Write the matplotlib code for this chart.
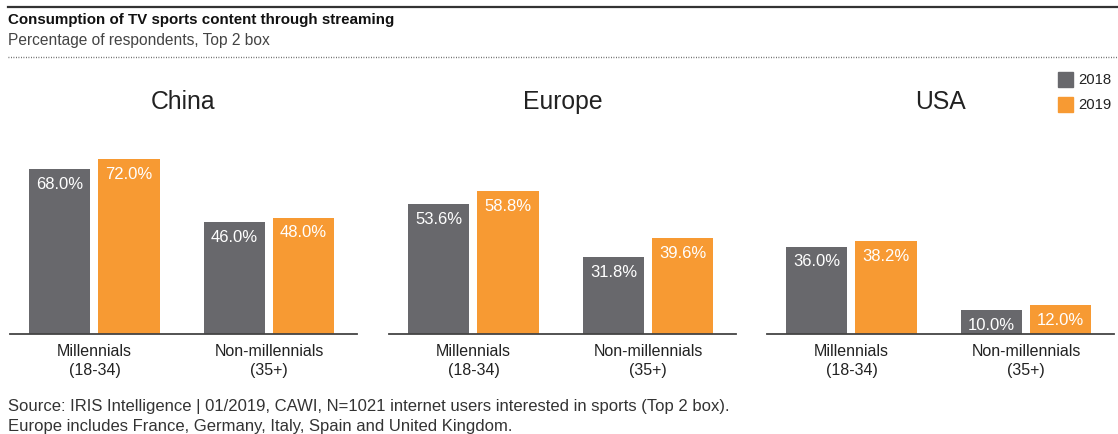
import matplotlib
matplotlib.use("Agg")
import matplotlib.pyplot as plt
from matplotlib.lines import Line2D
from matplotlib.patches import Rectangle

plt.rcParams['font.family'] = ['Liberation Sans', 'DejaVu Sans']

# Data
regions = ["China", "Europe", "USA"]
groups = ["Millennials\n(18-34)", "Non-millennials\n(35+)"]
years = ["2018", "2019"]
values_2018 = {"China": [68.0, 46.0], "Europe": [53.6, 31.8], "USA": [36.0, 10.0]}
values_2019 = {"China": [72.0, 48.0], "Europe": [58.8, 39.6], "USA": [38.2, 12.0]}

title = "Consumption of TV sports content through streaming"
subtitle = "Percentage of respondents, Top 2 box"
source_lines = [
    "Source: IRIS Intelligence | 01/2019, CAWI, N=1021 internet users interested in sports (Top 2 box).",
    "Europe includes France, Germany, Italy, Spain and United Kingdom.",
]

GRAY = "#68686c"
ORANGE = "#f79a33"
TEXT = "#222222"

W, H = 1118, 434
fig = plt.figure(figsize=(W / 100, H / 100), dpi=100)


def fx(px):
    return px / W


def fy(py):
    return 1 - py / H


# Header rules and text
fig.add_artist(Line2D([fx(8), fx(1118)], [fy(7), fy(7)], color="#333333", lw=1.6))
fig.text(fx(8), fy(20), title, fontsize=10.9, fontweight="bold", color="#111111",
         ha="left", va="center")
fig.text(fx(8), fy(40), subtitle, fontsize=11.2, color="#444444", ha="left", va="center")
fig.add_artist(Line2D([fx(8), fx(1118)], [fy(57), fy(57)], color="#555555", lw=1.0,
                      linestyle=(0, (0.6, 1.2))))

# Panels
axes_left = [10, 389, 767]
ax_w, ax_top, ax_bottom = 347, 140, 334
bar_w = 0.35
offset = 0.198
xs = [0, 1]

for region, left in zip(regions, axes_left):
    ax = fig.add_axes([fx(left), fy(ax_bottom), (ax_w) / W, (ax_bottom - ax_top) / H])
    ax.set_xlim(-0.484, 1.504)
    ax.set_ylim(0, 80)
    b1 = ax.bar([x - offset for x in xs], values_2018[region], width=bar_w, color=GRAY)
    b2 = ax.bar([x + offset for x in xs], values_2019[region], width=bar_w, color=ORANGE)
    for bars, vals in ((b1, values_2018[region]), (b2, values_2019[region])):
        for rect, v in zip(bars, vals):
            ax.annotate(f"{v:.1f}%", (rect.get_x() + rect.get_width() / 2, v),
                        xytext=(0, -11), textcoords="offset points",
                        ha="center", va="center", color="white", fontsize=12)
    for s in ("top", "right", "left"):
        ax.spines[s].set_visible(False)
    ax.spines["bottom"].set_color("#444444")
    ax.spines["bottom"].set_linewidth(1.3)
    ax.set_yticks([])
    ax.set_xticks(xs)
    ax.set_xticklabels(groups, fontsize=11.5, color=TEXT, linespacing=1.38)
    ax.tick_params(axis="x", length=0, pad=7)
    ax.text(0.5, 1 + 38 / 194, region, transform=ax.transAxes, ha="center", va="center",
            fontsize=17.8, color=TEXT)

# Legend
for i, (yr, col) in enumerate(zip(years, [GRAY, ORANGE])):
    top = 72 + i * 25
    fig.add_artist(Rectangle((fx(1058), fy(top + 15)), 15 / W, 15 / H, color=col,
                             transform=fig.transFigure))
    fig.text(fx(1078), fy(top + 8), yr, fontsize=10.7, color=TEXT, ha="left", va="center")

# Source note
for i, line in enumerate(source_lines):
    fig.text(fx(8), fy(407 + i * 19), line, fontsize=12, color="#333333",
             ha="left", va="center")

fig.savefig("out.png", dpi=100)
